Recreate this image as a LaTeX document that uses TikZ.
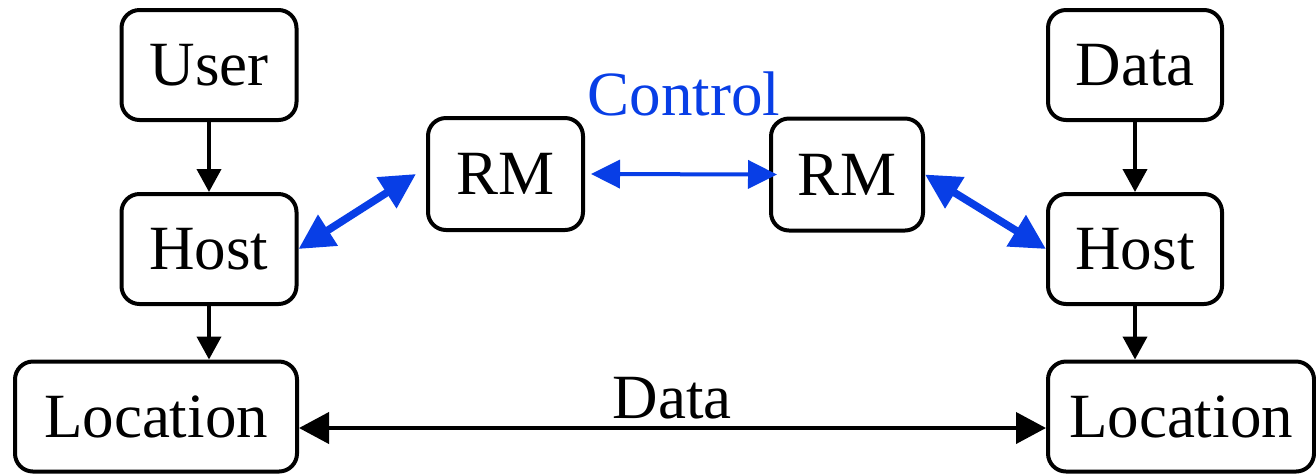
\documentclass[tikz,border=0pt]{standalone}
\usepackage{fontspec}
\setmainfont{Liberation Serif}
\usetikzlibrary{arrows.meta}
\definecolor{ctrlblue}{RGB}{8,62,230}
\begin{document}
\begin{tikzpicture}[x=0.5pt,y=-0.5pt,
  font=\fontsize{31.5}{36}\selectfont,
  box/.style={draw, line width=2pt, rounded corners=9pt, inner sep=0pt, minimum height=55pt, text depth=0pt},
  flow/.style={line width=2pt, -{Triangle[length=11.5pt,width=12pt]}},
  datalink/.style={line width=2pt, {Triangle[length=15pt,width=15.5pt]}-{Triangle[length=15pt,width=15.5pt]}},
  ctrl/.style={ctrlblue, line width=2pt, {Triangle[length=14.5pt,width=14pt]}-{Triangle[length=14.5pt,width=14pt]}},
  rmlink/.style={ctrlblue, line width=3.8pt, {Triangle[length=17.5pt,width=17.5pt]}-{Triangle[length=17.5pt,width=17.5pt]}}
]
\useasboundingbox (0,0) rectangle (1316,473);

% left column
\node[box, minimum width=87.5pt] (user)  at (209,65)  {User};
\node[box, minimum width=87.5pt] (hostl) at (209,249) {Host};
\node[box, minimum width=141pt]  (locl)  at (156,416.5) {Location};

% right column
\node[box, minimum width=87pt]   (data)  at (1135,65)  {Data};
\node[box, minimum width=87pt]   (hostr) at (1135,249) {Host};
\node[box, minimum width=133pt]  (locr)  at (1181,416.5) {Location};

% resource managers
\node[box, minimum width=77.5pt, minimum height=56pt] (rml) at (505.5,174) {RM};
\node[box, minimum width=76pt,   minimum height=56pt] (rmr) at (847,174.5) {RM};

% vertical flows
\draw[flow] (user.south)  -- (hostl.north);
\draw[flow] (hostl.south) -- (locl.north -| hostl.south);
\draw[flow] (data.south)  -- (hostr.north);
\draw[flow] (hostr.south) -- (locr.north -| hostr.south);

% control links
\draw[rmlink] (hostl.east) -- ([xshift=-5pt]rml.west);
\draw[rmlink] (rmr.east) -- (hostr.west);
\draw[ctrl] ([xshift=3pt]rml.east) -- ([xshift=4pt]rmr.west);
\node[ctrlblue, anchor=base] (ctrllabel) at (684,115) {Control};

% data link
\draw[datalink] ([yshift=-5.75pt]locl.east) -- ([yshift=-5.75pt]locr.west);
\node[anchor=base] (datalabel) at (672,418) {Data};
\end{tikzpicture}
\end{document}
